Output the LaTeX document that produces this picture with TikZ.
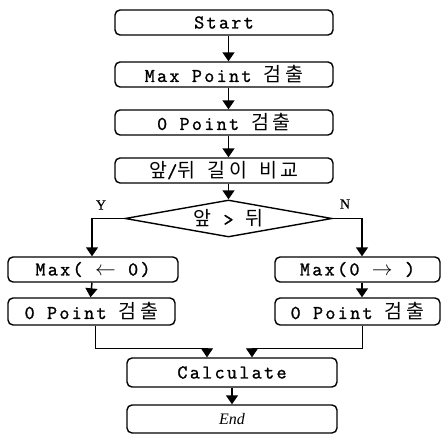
\documentclass[tikz,border=0pt]{standalone}
\usepackage{fontspec}
\setmainfont{Latin Modern Mono}[LetterSpace=12, FakeBold=1.3]
\newfontfamily\kr{Noto Sans CJK KR}[Scale=1.0, LetterSpace=18]
\newfontfamily\serifbold{Liberation Serif}[FakeBold=0.6]
\newfontfamily\endfont{Liberation Serif}
\usetikzlibrary{arrows.meta,shapes.geometric,calc}

\tikzset{
  stepbox/.style={draw, line width=1.4pt, rounded corners=5pt, inner sep=0pt,
    minimum height=25pt, font=\fontsize{19.5}{22}\selectfont},
  decision/.style={draw, line width=1.4pt, diamond, aspect=5.6, inner sep=0pt,
    minimum width=207pt, minimum height=37pt, font=\fontsize{19.5}{22}\selectfont},
  flow/.style={line width=1.5pt, -{Triangle[length=9pt,width=12pt]}},
  joinline/.style={line width=0.7pt, -{Triangle[length=9pt,width=12pt]}},
  branchlbl/.style={font=\serifbold\fontsize{14}{16}\selectfont, inner sep=0pt}
}

\begin{document}
\begin{tikzpicture}[x=1pt,y=-1pt]
\useasboundingbox (0,0) rectangle (444,435);

% main column
\node[stepbox, minimum width=218pt] (start) at (224,22.5) {Start};
\node[stepbox, minimum width=218pt] (maxp)  at (224,74.5) {Max Point {\kr 검출}};
\node[stepbox, minimum width=218pt] (zerop) at (224,122.5) {0 Point {\kr 검출}};
\node[stepbox, minimum width=218pt] (cmplen) at (224,170.5) {{\kr 앞}/{\kr 뒤} {\kr 길이} {\kr 비교}};
\node[decision] (cmp) at (228.5,218.5) {{\kr 앞} > {\kr 뒤}};

% branches
\node[stepbox, minimum width=170pt] (lmax) at (93,269.5) {Max( $\leftarrow$ 0)};
\node[stepbox, minimum width=165pt] (rmax) at (357.5,269.5) {Max(0 $\rightarrow$ )};
\node[stepbox, minimum width=167pt, minimum height=27pt] (lzero) at (91.5,311.5) {0 Point {\kr 검출}};
\node[stepbox, minimum width=165pt, minimum height=27pt] (rzero) at (357.5,311.5) {0 Point {\kr 검출}};

% tail
\node[stepbox, minimum width=210pt, minimum height=29pt] (calc) at (232,372.5) {Calculate};
\node[stepbox, minimum width=210pt, minimum height=28pt] (fin) at (232,419) {{\endfont\itshape\fontsize{16}{18}\selectfont End}};

% branch labels
\node[branchlbl] (ylbl) at (101,205) {Y};
\node[branchlbl] (nlbl) at (345,204) {N};

% connectors of the main column
\draw[flow] (start.south -| cmp.north) -- (maxp.north -| cmp.north);
\draw[flow] (maxp.south -| cmp.north) -- (zerop.north -| cmp.north);
\draw[flow] (zerop.south -| cmp.north) -- (cmplen.north -| cmp.north);
\draw[flow] (cmplen.south -| cmp.north) -- (cmp.north);

% decision branches
\draw[flow] (cmp.west) -| ([xshift=-1pt]lmax.north);
\draw[flow] (cmp.east) -| ([xshift=4.5pt]rmax.north);
\draw[flow] ([xshift=-1pt]lmax.south) -- ([xshift=-1pt]lzero.north);
\draw[flow] ([xshift=4.5pt]rmax.south) -- ([xshift=4.5pt]rzero.north);

% joining into Calculate
\draw[joinline] ([xshift=3.5pt]lzero.south) -- ++(0,22.5) -| ([xshift=-25pt]calc.north);
\draw[joinline] ([xshift=4.5pt]rzero.south) -- ++(0,22.5) -| ([xshift=20pt]calc.north);

\draw[flow] (calc.south) -- (fin.north);
\end{tikzpicture}
\end{document}
